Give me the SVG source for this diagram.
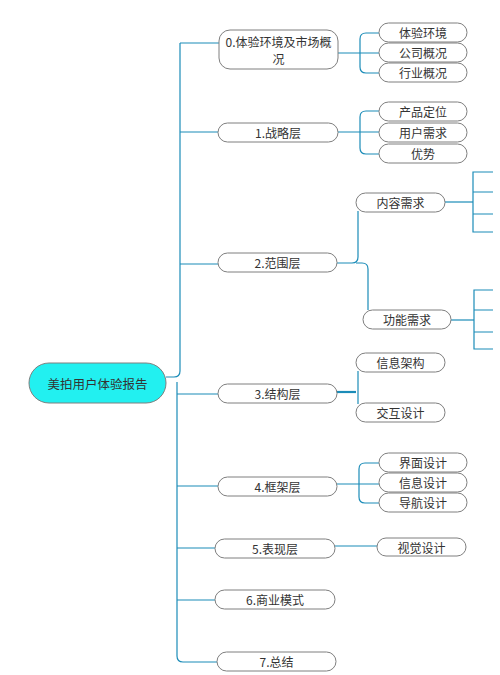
<svg xmlns="http://www.w3.org/2000/svg" width="500" height="675" viewBox="0 0 500 675">
<style>
.n rect{fill:#fff;stroke:#7f7f7f;stroke-width:1}
.n text{font-family:"Noto Sans CJK SC","Liberation Sans",sans-serif;font-size:12px;fill:#333;text-anchor:middle;dominant-baseline:central}
.c path{fill:none;stroke:#1b8cb8;stroke-width:1.2}
</style>
<rect width="500" height="675" fill="#fff"/>
<g class="c" id="connectors">
<path d="M180 43 V371 Q180 377 174 377 H166"/>
<path d="M177 382 V656 Q177 662 183 662 H217"/>
<path d="M180 43 H219"/>
<path d="M180 132 H218"/>
<path d="M180 264 H218"/>
<path d="M177 394 H218"/>
<path d="M177 486 H218"/>
<path d="M177 548 H215"/>
<path d="M177 600 H215"/>
<path d="M338 53 H379"/>
<path d="M379 33 H366 Q360 33 360 39 V67 Q360 73 366 73 H379"/>
<path d="M338 132 H379"/>
<path d="M379 111 H366 Q360 111 360 117 V148 Q360 154 366 154 H379"/>
<path d="M337 263 H352 Q358 263 358 257 V211"/>
<path d="M356 263 H362 Q368 263 368 269 V310"/>
<path d="M445 202 H473"/>
<path d="M493 172 H473 V232 H493 M473 192 H493 M473 214 H493"/>
<path d="M451 320 H474"/>
<path d="M493 290 H474 V349 H493 M474 310 H493 M474 332 H493"/>
<path d="M337 392 H356" style="stroke-width:2.2"/>
<path d="M358 371 V404"/>
<path d="M337 484 H379"/>
<path d="M379 463 H365 Q359 463 359 469 V497 Q359 503 365 503 H379"/>
<path d="M335 546 H377"/>
</g>
<g class="n" id="root"><rect x="29" y="363" width="137" height="40" rx="20" style="fill:#22f0f0"/><text x="97.5" y="383" style="font-size:12.5px">美拍用户体验报告</text></g>
<g class="n" id="n0"><rect x="219" y="30" width="119" height="39" rx="11"/><text x="278.5" y="41">0.体验环境及市场概</text><text x="278.5" y="58">况</text></g>
<g class="n" id="n1"><rect x="218" y="123" width="120" height="19" rx="9.5"/><text x="278" y="132.5">1.战略层</text></g>
<g class="n" id="n2"><rect x="218" y="253" width="119" height="19" rx="9.5"/><text x="277.5" y="262.5">2.范围层</text></g>
<g class="n" id="n3"><rect x="218" y="384" width="119" height="19" rx="9.5"/><text x="277.5" y="393.5">3.结构层</text></g>
<g class="n" id="n4"><rect x="218" y="477" width="119" height="19" rx="9.5"/><text x="277.5" y="486.5">4.框架层</text></g>
<g class="n" id="n5"><rect x="215" y="539" width="120" height="19" rx="9.5"/><text x="275" y="548.5">5.表现层</text></g>
<g class="n" id="n6"><rect x="215" y="590" width="120" height="19" rx="9.5"/><text x="275" y="599.5">6.商业模式</text></g>
<g class="n" id="n7"><rect x="217" y="652" width="119" height="19" rx="9.5"/><text x="276.5" y="661.5">7.总结</text></g>
<g class="n" id="n0a"><rect x="379" y="23" width="88" height="19" rx="9.5"/><text x="423" y="32.5">体验环境</text></g>
<g class="n" id="n0b"><rect x="379" y="43" width="88" height="19" rx="9.5"/><text x="423" y="52.5">公司概况</text></g>
<g class="n" id="n0c"><rect x="379" y="63" width="88" height="19" rx="9.5"/><text x="423" y="72.5">行业概况</text></g>
<g class="n" id="n1a"><rect x="379" y="102" width="88" height="19" rx="9.5"/><text x="423" y="111.5">产品定位</text></g>
<g class="n" id="n1b"><rect x="379" y="123" width="88" height="19" rx="9.5"/><text x="423" y="132.5">用户需求</text></g>
<g class="n" id="n1c"><rect x="379" y="144" width="88" height="19" rx="9.5"/><text x="423" y="153.5">优势</text></g>
<g class="n" id="n2a"><rect x="356" y="193" width="89" height="19" rx="9.5"/><text x="400.5" y="202.5">内容需求</text></g>
<g class="n" id="n2b"><rect x="363" y="310" width="88" height="19" rx="9.5"/><text x="407" y="319.5">功能需求</text></g>
<g class="n" id="n3a"><rect x="356" y="353" width="89" height="19" rx="9.5"/><text x="400.5" y="362.5">信息架构</text></g>
<g class="n" id="n3b"><rect x="356" y="403" width="89" height="19" rx="9.5"/><text x="400.5" y="412.5">交互设计</text></g>
<g class="n" id="n4a"><rect x="379" y="453" width="88" height="19" rx="9.5"/><text x="423" y="462.5">界面设计</text></g>
<g class="n" id="n4b"><rect x="379" y="473" width="88" height="19" rx="9.5"/><text x="423" y="482.5">信息设计</text></g>
<g class="n" id="n4c"><rect x="379" y="493" width="88" height="19" rx="9.5"/><text x="423" y="502.5">导航设计</text></g>
<g class="n" id="n5a"><rect x="377" y="538" width="89" height="18" rx="9"/><text x="421.5" y="547">视觉设计</text></g>
</svg>
